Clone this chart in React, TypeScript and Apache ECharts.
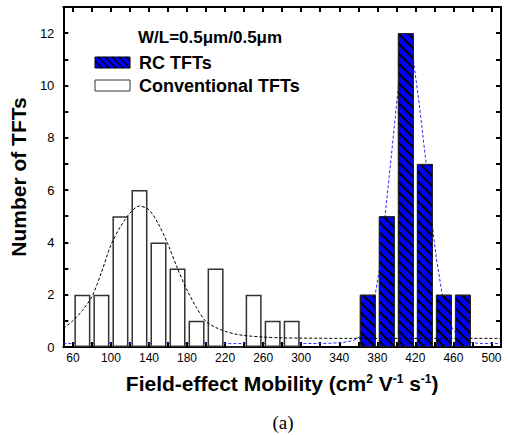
import React, { useEffect, useRef } from "react";
import * as echarts from "echarts";

const convCenters = [70, 90, 110, 130, 150, 170, 190, 210, 230, 250, 270, 290];
const convCounts = [2, 2, 5, 6, 4, 3, 1, 3, 0, 2, 1, 1];
const rcCenters = [370, 390, 410, 430, 450, 470];
const rcCounts = [2, 5, 12, 7, 2, 2];

const convFitX = [50, 60, 70, 80, 90, 100, 110, 120, 130, 140, 150, 160, 170, 180, 190, 200, 210, 220, 230, 240, 260, 280, 300, 350, 510];
const convFitY = [0.71, 1.0, 1.4, 1.92, 2.85, 3.9, 4.6, 5.12, 5.39, 5.24, 4.7, 3.92, 3.0, 2.18, 1.5, 0.97, 0.75, 0.6, 0.5, 0.44, 0.38, 0.35, 0.34, 0.33, 0.33];

const rcFitX = [50, 300, 330, 345, 355, 362, 370, 378, 384, 388, 395, 400, 405, 410, 414, 418, 424, 431, 436, 442, 448, 453, 460, 468, 478, 490, 510];
const rcFitY = [0.13, 0.13, 0.14, 0.18, 0.25, 0.4, 1.0, 2.05, 3.4, 4.97, 7.4, 9.2, 11.0, 12.0, 11.8, 10.95, 9.3, 7.1, 5.2, 3.4, 2.05, 1.1, 0.65, 0.3, 0.17, 0.13, 0.13];

const xTickValues = [60, 80, 100, 120, 140, 160, 180, 200, 220, 240, 260, 280, 300, 320, 340, 360, 380, 400, 420, 440, 460, 480, 500];
const xLabelValues = [60, 100, 140, 180, 220, 260, 300, 340, 380, 420, 460, 500];
const yTickValues = [0, 1, 2, 3, 4, 5, 6, 7, 8, 9, 10, 11, 12];
const yLabelValues = [0, 2, 4, 6, 8, 10, 12];

const FONT = "'Liberation Sans', Arial, Helvetica, sans-serif";

export default function App() {
  const ref = useRef<HTMLDivElement>(null);
  useEffect(() => {
    if (!ref.current) return;
    const chart = echarts.init(ref.current, undefined, { renderer: "svg" });

    const axisLine = { show: true, onZero: false, lineStyle: { color: "#000", width: 2 } };
    const tickStyle = { color: "#000", width: 2 };

    // legend hatch lines
    const hatch: any[] = [];
    const rx = 95, ry = 57, rw = 35, rh = 11;
    for (let a = rx - rh; a < rx + rw; a += 7) {
      let x1 = a, y1 = ry, x2 = a + rh, y2 = ry + rh;
      if (x1 < rx) { y1 = ry + (rx - x1); x1 = rx; }
      if (x2 > rx + rw) { y2 = ry + rh - (x2 - (rx + rw)); x2 = rx + rw; }
      if (x2 - x1 < 0.5) continue;
      hatch.push({ type: "line", shape: { x1, y1, x2, y2 }, style: { stroke: "#000", lineWidth: 1.2 }, z: 101 });
    }

    chart.setOption({
      animation: false,
      grid: { left: 61, right: 8, top: 7, bottom: 88 },
      xAxis: [
        {
          type: "value", min: 50, max: 510, position: "bottom",
          axisLine,
          axisTick: { show: true, inside: true, length: 5, lineStyle: tickStyle, customValues: xTickValues },
          axisLabel: { customValues: xLabelValues, color: "#000", fontSize: 12, margin: 5, fontFamily: FONT },
          splitLine: { show: false },
          name: "{m|Field-effect Mobility (cm}{s|2}{m| V}{s|-1}{m| s}{s|-1}{m|)}",
          nameLocation: "middle",
          nameGap: 26,
          nameTextStyle: {
            color: "#000", fontFamily: FONT, fontWeight: "bold", fontSize: 21,
            rich: {
              m: { fontFamily: FONT, fontWeight: "bold", fontSize: 21, color: "#000" },
              s: { fontFamily: FONT, fontWeight: "bold", fontSize: 12, color: "#000", verticalAlign: "top" },
            },
          },
        },
        {
          type: "value", min: 50, max: 510, position: "top",
          axisLine,
          axisTick: { show: true, inside: true, length: 5, lineStyle: tickStyle, customValues: xTickValues },
          axisLabel: { show: false },
          splitLine: { show: false },
        },
      ],
      yAxis: [
        {
          type: "value", min: 0, max: 13, position: "left",
          axisLine,
          axisTick: { show: true, inside: true, length: 5, lineStyle: tickStyle, customValues: yTickValues },
          axisLabel: { customValues: yLabelValues, color: "#000", fontSize: 13, margin: 9, fontFamily: FONT },
          splitLine: { show: false },
          name: "Number of TFTs",
          nameLocation: "middle",
          nameRotate: 90,
          nameGap: 29,
          nameTextStyle: { color: "#000", fontFamily: FONT, fontWeight: "bold", fontSize: 21 },
        },
        {
          type: "value", min: 0, max: 13, position: "right",
          axisLine,
          axisTick: { show: true, inside: true, length: 5, lineStyle: tickStyle, customValues: yTickValues },
          axisLabel: { show: false },
          splitLine: { show: false },
        },
      ],
      series: [
        {
          name: "RC fit",
          type: "line",
          data: rcFitX.map((x, i) => [x, rcFitY[i]]),
          symbol: "none",
          lineStyle: { color: "#2a2aff", width: 1, type: [3, 2] },
          z: 1,
        },
        {
          name: "Conventional TFTs",
          type: "bar",
          data: convCenters.map((x, i) => [x, convCounts[i]]),
          barWidth: 16,
          barGap: "-100%",
          itemStyle: { color: "#fff", borderColor: "#333", borderWidth: 1.5 },
          z: 2,
        },
        {
          name: "RC TFTs",
          type: "bar",
          data: rcCenters.map((x, i) => [x, rcCounts[i]]),
          barWidth: 16,
          barGap: "-100%",
          itemStyle: {
            color: "#0000ff", borderColor: "#222", borderWidth: 1,
            decal: { symbol: "rect", symbolSize: 1, dashArrayX: [1, 0], dashArrayY: [1.3, 4.3], rotation: Math.PI / 4, color: "#000" },
          },
          z: 2,
        },
        {
          name: "Conv fit",
          type: "line",
          data: convFitX.map((x, i) => [x, convFitY[i]]),
          symbol: "none",
          smooth: 0.3,
          lineStyle: { color: "#000", width: 1, type: [3, 2] },
          z: 3,
        },
      ],
      graphic: [
        { type: "text", x: 138, y: 37, style: { text: "W/L=0.5μm/0.5μm", fontFamily: FONT, fontWeight: "bold", fontSize: 17, fill: "#000", textAlign: "left", textVerticalAlign: "middle" }, z: 100 },
        { type: "rect", shape: { x: rx, y: ry, width: rw, height: rh }, style: { fill: "#0000ff", stroke: "#000", lineWidth: 1 }, z: 100 },
        ...hatch,
        { type: "text", x: 139, y: 63, style: { text: "RC TFTs", fontFamily: FONT, fontWeight: "bold", fontSize: 18, fill: "#000", textAlign: "left", textVerticalAlign: "middle" }, z: 100 },
        { type: "rect", shape: { x: 95, y: 80, width: 35, height: 11 }, style: { fill: "#fff", stroke: "#333", lineWidth: 1 }, z: 100 },
        { type: "text", x: 139, y: 86, style: { text: "Conventional TFTs", fontFamily: FONT, fontWeight: "bold", fontSize: 18, fill: "#000", textAlign: "left", textVerticalAlign: "middle" }, z: 100 },
        { type: "text", x: 283, y: 422, style: { text: "(a)", fontFamily: "'Liberation Serif', 'Times New Roman', serif", fontSize: 19, fill: "#000", textAlign: "center", textVerticalAlign: "middle" }, z: 100 },
      ],
    });
    return () => chart.dispose();
  }, []);
  return <div ref={ref} style={{ width: 509, height: 435, position: "absolute", left: 0, top: 0 }} />;
}
